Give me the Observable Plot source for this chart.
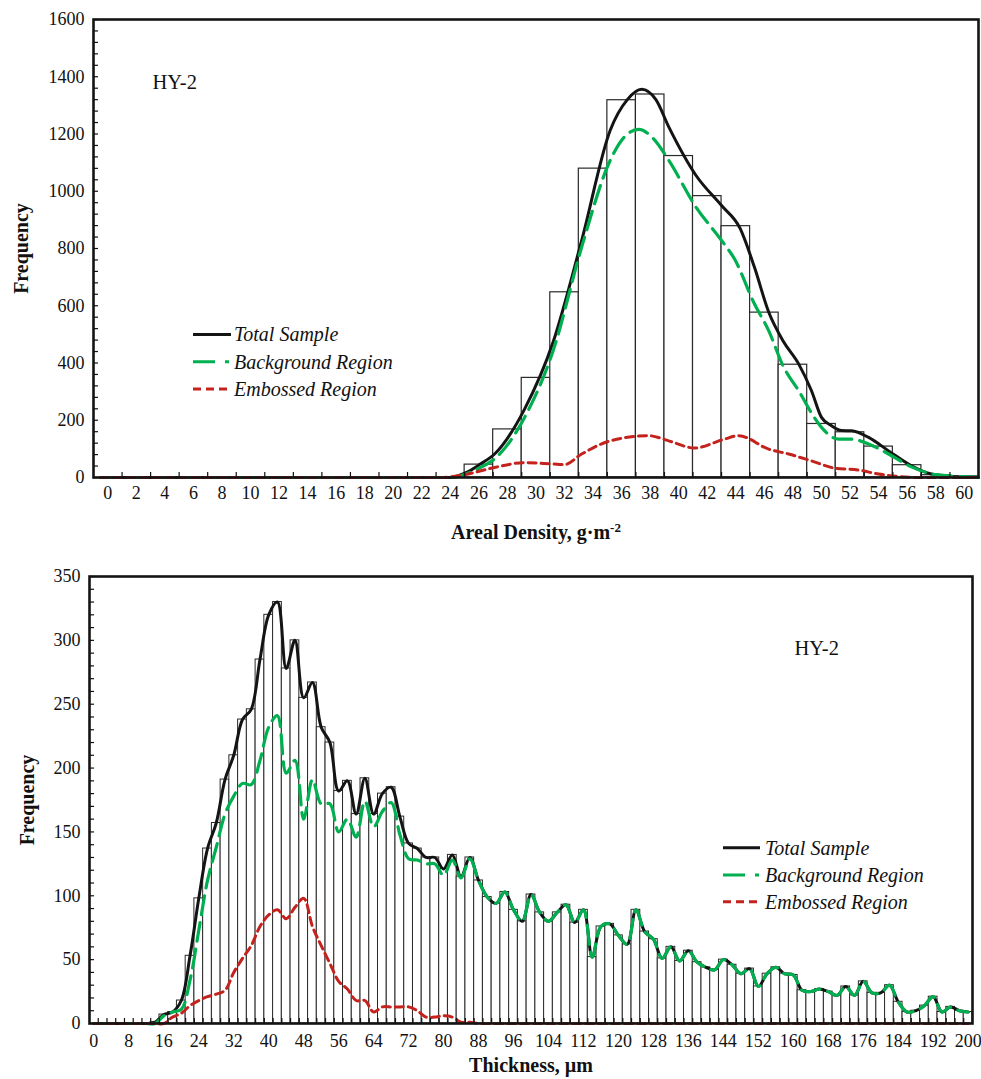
<!DOCTYPE html>
<html>
<head>
<meta charset="utf-8">
<script src="https://cdn.jsdelivr.net/npm/d3@7"></script>
<script src="https://cdn.jsdelivr.net/npm/@observablehq/plot@0.6"></script>
<style>
  html, body { margin: 0; padding: 0; background: #fff; }
  #chart svg { display: block; }
</style>
</head>
<body>
<div id="chart"></div>
<script>
// ---------- Shared ----------
const seriesNames = ["Total Sample", "Background Region", "Embossed Region"];
const sampleLabel = "HY-2";
const yTitle = "Frequency";

// ---------- Top chart: areal density ----------
const densityBins = [0,2,4,6,8,10,12,14,16,18,20,22,24,26,28,30,32,34,36,38,40,42,44,46,48,50,52,54,56,58,60];
const densityCounts = [0,0,0,0,0,0,0,0,0,0,0,0,0,45,168,348,647,1079,1318,1338,1123,983,878,576,394,187,158,108,43,8,4];
const densityYLabels = [0,200,400,600,800,1000,1200,1400,1600];
const densityTitle = "Areal Density, g·m-2";

const densityTotalX = [-0.5,24,25.1,26.1,27.1,29.2,31.2,33.2,35.2,36.4,37.4,38.4,39.3,41.2,43,44.3,45.3,46.3,47.3,48.4,49.3,50,50.7,51.4,52.1,53.3,54.7,56.3,57.7,59.3,61];
const densityTotalY = [0,0,17,47,82,239,473,828,1213,1320,1356,1320,1225,1056,950,870,735,578,478,397,303,210,181,164,163,140,93,41,12,3,0];

const densityBgX = [-0.5,24,25.1,26.1,27.1,29.2,31.2,33.2,35.2,36.2,37.2,38.2,39.3,41.2,43,43.9,45.3,46.3,47.3,48.5,49.3,50,51.2,52.1,53.3,54.7,56.3,58,60.3,61];
const densityBgY = [0,0,12,35,65,210,443,805,1108,1190,1216,1185,1108,945,828,764,607,513,391,295,225,175,134,134,117,82,37,10,2,0];

const densityEmbX = [-0.5,23.3,25,27.1,29.2,31.2,32,33.2,35.2,37.9,39.3,41.1,43.2,44.2,46.3,47.7,49.3,50.9,52.6,54,55.6,57,61];
const densityEmbY = [0,0,10,35,52,47,45,82,128,146,128,103,134,146,99,82,58,33,26,12,3,0,0];

// ---------- Bottom chart: thickness ----------
const thickBins = d3.range(0, 201, 2);
const thickXLabels = [0,8,16,24,32,40,48,56,64,72,80,88,96,104,112,120,128,136,144,152,160,168,176,184,192,200];
const thickYLabels = [0,50,100,150,200,250,300,350];
const thickTitle = "Thickness, µm";

const thickTotal = [
  0,0,0,0,0,0,0,
  1,
  7,9,18,53,98,137,157,191,210,238,
  246,285,320,330,278,300,255,267,232,220,
  182,190,164,192,164,180,185,162,141,137,
  130,130,121,132,115,130,112,99,94,103,
  89,80,101,87,80,87,93,79,89,52,
  76,78,69,62,89,72,66,51,60,49,
  57,48,44,42,50,46,39,43,29,39,
  44,39,38,26,25,27,25,22,29,22,
  33,24,24,30,17,9,10,14,21,9,
  13,10,9
];
const thickBg = [
  0,0,0,0,0,0,0,
  0,
  6,9,11,34,73,112,138,164,178,188,
  187,206,232,241,196,206,160,191,172,172,
  150,160,146,174,154,166,173,148,129,128,
  125,125,116,128,114,129,112,99,94,103,
  89,80,101,87,80,87,93,79,89,52,
  76,78,69,62,89,72,66,51,60,49,
  57,48,44,42,50,46,39,43,29,39,
  44,39,38,26,25,27,25,22,29,22,
  33,24,24,30,17,9,10,14,21,9,
  13,10,9
];
const thickEmb = [
  0,0,0,0,0,0,0,
  0,
  0,5,8,14,18,21,23,26,40,51,
  61,76,85,89,82,91,98,76,61,47,
  33,27,18,18,9,13,13,13,13,10,
  5,5,6,5,1,1,0,0,0,0,
  0,0,0,0,0,0,0,0,0,0,
  0,0,0,0,0,0,0,0,0,0,
  0,0,0,0,0,0,0,0,0,0,
  0,0,0,0,0,0,0,0,0,0,
  0,0,0,0,0,0,0,0,0,0,
  0,0,0
];

// ---------- Styles ----------
const serif = "'Liberation Serif', 'Times New Roman', Times, serif";
const BLACK = "#141414";
const GREEN = "#00b050";
const RED = "#c4221c";
const lineStyles = [
  {stroke: BLACK, dash: null, width: 3},
  {stroke: GREEN, dash: "19,8", width: 3.2},
  {stroke: RED, dash: "8,5", width: 3}
];
const legendDash = [null, "22,10,4,10", "8,5"];
const plain = d => String(d);

const pts = (xs, ys) => xs.map((x, i) => ({x, y: ys[i]}));

// ---------- Top plot ----------
const densityData = densityBins.map((b, i) => ({b, n: densityCounts[i]}));
const densityBoundaries = d3.range(1, 60, 2);
const densityMinorY = d3.range(0, 1601, 40);

const topPlot = Plot.plot({
  width: 981,
  height: 548,
  marginLeft: 93,
  marginRight: 3,
  marginTop: 19,
  marginBottom: 71,
  style: {fontFamily: serif, fontSize: "18px", color: "#111", background: "#fff", overflow: "visible"},
  x: {domain: [-1, 61], label: null},
  y: {domain: [0, 1600], label: null},
  marks: [
    Plot.rect(densityData, {x1: d => d.b - 1, x2: d => d.b + 1, y1: d => 0, y2: "n", fill: "#fff", stroke: "#2a2a2a", strokeWidth: 1.2}),
    Plot.line(pts(densityTotalX, densityTotalY), {x: "x", y: "y", curve: "monotone-x", stroke: lineStyles[0].stroke, strokeWidth: lineStyles[0].width}),
    Plot.line(pts(densityBgX, densityBgY), {x: "x", y: "y", curve: "monotone-x", stroke: lineStyles[1].stroke, strokeWidth: lineStyles[1].width, strokeDasharray: lineStyles[1].dash}),
    Plot.line(pts(densityEmbX, densityEmbY), {x: "x", y: "y", curve: "monotone-x", stroke: lineStyles[2].stroke, strokeWidth: lineStyles[2].width, strokeDasharray: lineStyles[2].dash}),
    Plot.frame({stroke: BLACK, strokeWidth: 2.6}),
    Plot.axisY(densityYLabels, {tickSize: 0, tickPadding: 9, label: null, fontSize: 18, tickFormat: plain}),
    Plot.axisY(densityMinorY, {tickSize: -5, tickFormat: () => "", label: null, strokeWidth: 1.2}),
    Plot.axisX(densityBins, {tickSize: 0, tickPadding: 9, label: null, fontSize: 18, tickFormat: plain}),
    Plot.axisX(densityBoundaries, {tickSize: -5, tickFormat: () => "", label: null, strokeWidth: 1.2}),
    Plot.text([yTitle], {frameAnchor: "left", dx: -72, rotate: -90, lineAnchor: "middle", textAnchor: "middle", fontWeight: "bold", fontSize: 20, fontFamily: serif}),
    Plot.text([densityTitle], {frameAnchor: "bottom", dy: 55, lineAnchor: "middle", fontWeight: "bold", fontSize: 20, fontFamily: serif}),
    Plot.text([sampleLabel], {frameAnchor: "top-left", dx: 59, dy: 63, lineAnchor: "middle", textAnchor: "start", fontSize: 20.5, fontFamily: serif})
  ]
});

// ---------- Bottom plot ----------
const thickBars = thickBins.map((b, i) => ({b, n: thickTotal[i]}));
const thickBoundaries = d3.range(1, 200, 2);
const thickMinorY = d3.range(0, 351, 10);

const bottomPlot = Plot.plot({
  width: 981,
  height: 531,
  marginLeft: 89,
  marginRight: 9,
  marginTop: 28,
  marginBottom: 56,
  style: {fontFamily: serif, fontSize: "18px", color: "#111", background: "#fff", overflow: "visible"},
  x: {domain: [-1, 201], label: null},
  y: {domain: [0, 350], label: null},
  marks: [
    Plot.rect(thickBars, {x1: d => d.b - 1, x2: d => d.b + 1, y1: d => 0, y2: "n", fill: "#fff", stroke: "#2a2a2a", strokeWidth: 1}),
    Plot.line(pts(thickBins, thickTotal), {x: "x", y: "y", curve: "catmull-rom", stroke: lineStyles[0].stroke, strokeWidth: lineStyles[0].width}),
    Plot.line(pts(thickBins, thickBg), {x: "x", y: "y", curve: "catmull-rom", stroke: lineStyles[1].stroke, strokeWidth: lineStyles[1].width, strokeDasharray: lineStyles[1].dash}),
    Plot.line(pts(thickBins, thickEmb), {x: "x", y: "y", curve: "catmull-rom", stroke: lineStyles[2].stroke, strokeWidth: lineStyles[2].width, strokeDasharray: lineStyles[2].dash}),
    Plot.frame({stroke: BLACK, strokeWidth: 2.6}),
    Plot.axisY(thickYLabels, {tickSize: 0, tickPadding: 9, label: null, fontSize: 18, tickFormat: plain}),
    Plot.axisY(thickMinorY, {tickSize: -5, tickFormat: () => "", label: null, strokeWidth: 1.2}),
    Plot.axisX(thickXLabels, {tickSize: 0, tickPadding: 11, label: null, fontSize: 18, tickFormat: plain}),
    Plot.axisX(thickBoundaries, {tickSize: -5, tickFormat: () => "", label: null, strokeWidth: 1.2}),
    Plot.text([yTitle], {frameAnchor: "left", dx: -62, rotate: -90, lineAnchor: "middle", textAnchor: "middle", fontWeight: "bold", fontSize: 20, fontFamily: serif}),
    Plot.text([thickTitle], {frameAnchor: "bottom", dy: 42, lineAnchor: "middle", fontWeight: "bold", fontSize: 20, fontFamily: serif}),
    Plot.text([sampleLabel], {frameAnchor: "top-left", dx: 705, dy: 72, lineAnchor: "middle", textAnchor: "start", fontSize: 20.5, fontFamily: serif})
  ]
});

// ---------- Legends ----------
function addLegend(svg, x0, x1, rows, textX) {
  const g = d3.select(svg).append("g").attr("class", "legend").attr("text-anchor", "start");
  seriesNames.forEach((name, i) => {
    g.append("line")
      .attr("x1", x0).attr("x2", x1)
      .attr("y1", rows[i]).attr("y2", rows[i])
      .attr("stroke", lineStyles[i].stroke)
      .attr("stroke-width", 3)
      .attr("stroke-dasharray", legendDash[i]);
    g.append("text")
      .attr("x", textX).attr("y", rows[i]).attr("dy", "0.34em")
      .attr("text-anchor", "start")
      .attr("font-family", serif).attr("font-size", 20).attr("font-style", "italic")
      .attr("fill", "#111")
      .text(name);
  });
}
addLegend(topPlot, 193, 231, [334.5, 361.8, 389], 234);
addLegend(bottomPlot, 723, 760, [299.7, 327, 353.7], 765);

// superscript for g·m-2
d3.select(topPlot).selectAll("text").filter(function() { return this.textContent === densityTitle; })
  .each(function() {
    const t = d3.select(this);
    t.text("Areal Density, g·m");
    t.append("tspan").attr("dy", "-0.5em").attr("font-size", 13).text("-2");
  });

document.getElementById("chart").append(topPlot, bottomPlot);
</script>
</body>
</html>
